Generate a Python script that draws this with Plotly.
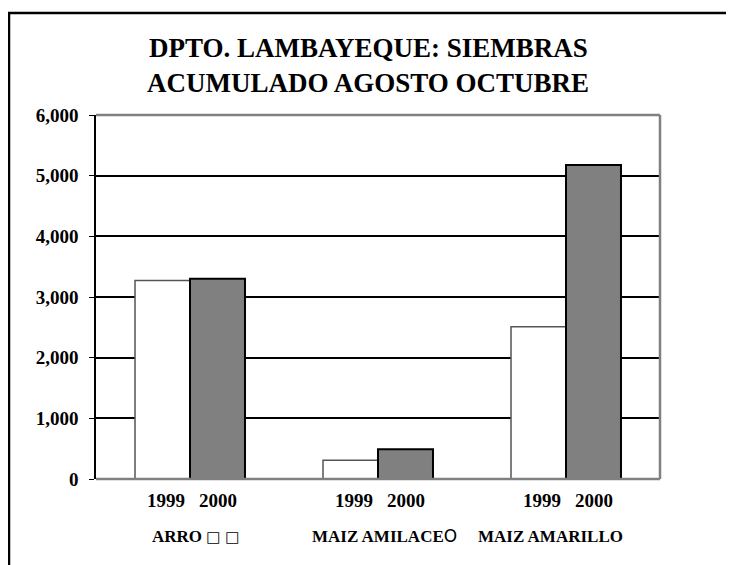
import plotly.graph_objects as go

categories = ["ARRO", "MAIZ AMILACEO", "MAIZ AMARILLO"]
cat_labels = [
    "ARRO <span style='font-family:DejaVu Sans;font-weight:normal;font-size:15px'>□ □</span>",
    "MAIZ AMILACE<span style='font-family:DejaVu Sans;font-weight:normal'>O</span>",
    "MAIZ AMARILLO",
]
years = ["1999", "2000"]
values_1999 = [3270, 310, 2510]
values_2000 = [3300, 490, 5175]
y_ticks = [0, 1000, 2000, 3000, 4000, 5000, 6000]
title_lines = ["DPTO. LAMBAYEQUE: SIEMBRAS", "ACUMULADO AGOSTO OCTUBRE"]

FONT = "Liberation Serif"

fig = go.Figure()
fig.add_trace(go.Bar(
    name=years[0], x=list(range(len(categories))), y=values_1999,
    marker=dict(color="white", line=dict(color="#555555", width=1.5)),
))
fig.add_trace(go.Bar(
    name=years[1], x=list(range(len(categories))), y=values_2000,
    marker=dict(color="#808080", line=dict(color="black", width=2)),
))

# page offset of 8px (browser body margin)
OFF = 8
W, H = 734, 565
L, R, T, B = 96 - OFF, 742 - 660, 115 - OFF, 573 - 479
pw, ph = W - L - R, H - T - B

fig.update_layout(
    width=W, height=H,
    margin=dict(l=L, r=R, t=T, b=B),
    paper_bgcolor="white", plot_bgcolor="white",
    barmode="group", bargap=0.415, bargroupgap=0,
    showlegend=False,
    font=dict(family=FONT, color="black"),
    xaxis=dict(
        range=[-0.5, len(categories) - 0.5],
        showticklabels=False, showgrid=False, zeroline=False,
        ticks="", showline=False,
    ),
    yaxis=dict(
        range=[0, 6000], tickvals=y_ticks,
        ticktext=[f"<b>{v:,}</b>" for v in y_ticks],
        tickfont=dict(family=FONT, size=19, color="black"),
        ticks="outside", ticklen=5, tickcolor="black", tickwidth=1,
        ticklabelstandoff=7,
        showline=True, linecolor="black", linewidth=1.5,
        showgrid=True, gridcolor="black", gridwidth=1.5,
        zeroline=False,
    ),
)

# title lines (page y centres 48 and 83)
for k, (line, py) in enumerate(zip(title_lines, [48, 83])):
    fig.add_annotation(
        x=(368 - OFF - L) / pw, y=(T + ph - (py - OFF)) / ph,
        xref="paper", yref="paper", xanchor="center", yanchor="middle",
        showarrow=False, text=f"<b>{line}</b>",
        font=dict(family=FONT, size=27, color="black"),
    )

# grey plot frame (top, right, bottom)
frame = dict(type="line", xref="paper", yref="paper", layer="above",
             line=dict(color="#808080", width=2.5))
fig.add_shape(**frame, x0=0, x1=1, y0=1, y1=1)
fig.add_shape(**frame, x0=1, x1=1, y0=0, y1=1)
fig.add_shape(**frame, x0=0, x1=1, y0=0, y1=0)

# outer black frame (page x=9, page y=13)
fig.add_shape(type="rect", xref="paper", yref="paper",
              x0=(9 - OFF - L) / pw, x1=(W + 20 - L) / pw,
              y0=-(H + 20 - (T + ph)) / ph, y1=(T + ph - (13 - OFF)) / ph,
              line=dict(color="black", width=2.5), fillcolor="rgba(0,0,0,0)")

# year labels under each bar
offset = (1 - 0.415) / 4
for i, c in enumerate(categories):
    for j, yr in enumerate(years):
        fig.add_annotation(
            x=i + (-offset if j == 0 else offset) + (0.02 if j == 0 else 0),
            y=0, xref="x", yref="y", yanchor="middle",
            yshift=-21, showarrow=False,
            text=f"<b>{yr}</b>",
            font=dict(family=FONT, size=19, color="black"),
        )

# category labels
cat_shift = [5, 6, -16]
for i, lab in enumerate(cat_labels):
    fig.add_annotation(
        x=i, y=0, xref="x", yref="y", yanchor="middle",
        xshift=cat_shift[i], yshift=-57, showarrow=False,
        text=f"<b>{lab}</b>",
        font=dict(family=FONT, size=17, color="black"),
    )

fig.write_html("out.html")
